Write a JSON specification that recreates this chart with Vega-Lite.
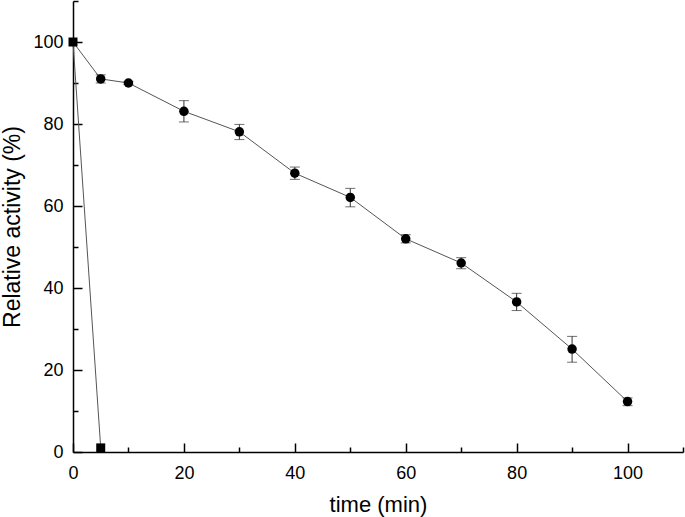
{
  "$schema": "https://vega.github.io/schema/vega-lite/v6.json",
  "width": 610,
  "height": 451,
  "autosize": {"type": "none"},
  "padding": {"left": 73, "top": 1, "right": 2, "bottom": 65},
  "background": "white",
  "config": {
    "view": {"stroke": null},
    "font": "Liberation Sans",
    "axis": {
      "domainColor": "black",
      "domainWidth": 1.5,
      "tickColor": "black",
      "tickWidth": 1.5,
      "grid": false,
      "labelFont": "Liberation Sans",
      "labelFontSize": 18,
      "labelColor": "black",
      "titleFont": "Liberation Sans",
      "titleFontWeight": "normal",
      "titleColor": "black"
    }
  },
  "data": {
    "values": [
      {"t": 0, "act": 100, "lo": 100, "hi": 100, "series": "circle"},
      {"t": 5, "act": 91, "lo": 90, "hi": 92, "series": "circle"},
      {"t": 10, "act": 90, "lo": 89.6, "hi": 90.4, "series": "circle"},
      {"t": 20, "act": 83.1, "lo": 80.5, "hi": 85.7, "series": "circle"},
      {"t": 30, "act": 78.1, "lo": 76.2, "hi": 79.9, "series": "circle"},
      {"t": 40, "act": 68, "lo": 66.5, "hi": 69.5, "series": "circle"},
      {"t": 50, "act": 62.1, "lo": 59.8, "hi": 64.3, "series": "circle"},
      {"t": 60, "act": 52, "lo": 51, "hi": 53, "series": "circle"},
      {"t": 70, "act": 46.1, "lo": 44.7, "hi": 47.4, "series": "circle"},
      {"t": 80, "act": 36.6, "lo": 34.5, "hi": 38.7, "series": "circle"},
      {"t": 90, "act": 25.1, "lo": 21.9, "hi": 28.2, "series": "circle"},
      {"t": 100, "act": 12.3, "lo": 11.3, "hi": 13.2, "series": "circle"},
      {"t": 0, "act": 100, "lo": 100, "hi": 100, "series": "square"},
      {"t": 5, "act": 1, "lo": 1, "hi": 1, "series": "square"}
    ]
  },
  "encoding": {
    "x": {
      "field": "t",
      "type": "quantitative",
      "scale": {"domain": [0, 110], "nice": false, "zero": false},
      "axis": {
        "title": "time (min)",
        "titleFontSize": 22,
        "values": [0, 10, 20, 30, 40, 50, 60, 70, 80, 90, 100, 110],
        "labelExpr": "datum.value % 20 === 0 && datum.value <= 100 ? datum.label : ''",
        "tickSize": {"condition": {"test": "datum.value % 20 === 0", "value": -9}, "value": -5},
        "labelPadding": 21,
        "titlePadding": 8,
        "labelFlush": false,
        "labelOverlap": false
      }
    },
    "y": {
      "field": "act",
      "type": "quantitative",
      "scale": {"domain": [0, 110], "nice": false, "zero": false},
      "axis": {
        "title": "Relative activity (%)",
        "titleFontSize": 23,
        "values": [0, 10, 20, 30, 40, 50, 60, 70, 80, 90, 100, 110],
        "labelExpr": "datum.value % 20 === 0 && datum.value <= 100 ? datum.label : ''",
        "tickSize": {"condition": {"test": "datum.value % 20 === 0", "value": -9}, "value": -5},
        "labelPadding": 19,
        "titlePadding": 8,
        "labelFlush": false,
        "labelOverlap": false
      }
    }
  },
  "layer": [
    {
      "mark": {"type": "line", "color": "#555555", "strokeWidth": 1},
      "encoding": {"detail": {"field": "series"}}
    },
    {
      "transform": [{"filter": "datum.series === 'circle' && datum.hi > datum.lo"}],
      "mark": {"type": "rule", "color": "#333333", "strokeWidth": 1},
      "encoding": {"y": {"field": "lo", "type": "quantitative"}, "y2": {"field": "hi"}}
    },
    {
      "transform": [{"filter": "datum.series === 'circle' && datum.hi > datum.lo"}],
      "mark": {"type": "tick", "orient": "horizontal", "color": "#333333", "thickness": 1, "size": 10},
      "encoding": {"y": {"field": "lo", "type": "quantitative"}}
    },
    {
      "transform": [{"filter": "datum.series === 'circle' && datum.hi > datum.lo"}],
      "mark": {"type": "tick", "orient": "horizontal", "color": "#333333", "thickness": 1, "size": 10},
      "encoding": {"y": {"field": "hi", "type": "quantitative"}}
    },
    {
      "transform": [{"filter": "datum.series === 'circle' && datum.t > 0"}],
      "mark": {"type": "point", "shape": "circle", "filled": true, "color": "black", "opacity": 1, "size": 90}
    },
    {
      "transform": [{"filter": "datum.series === 'square'"}],
      "mark": {"type": "point", "shape": "square", "filled": true, "color": "black", "opacity": 1, "size": 81, "clip": false}
    }
  ]
}
